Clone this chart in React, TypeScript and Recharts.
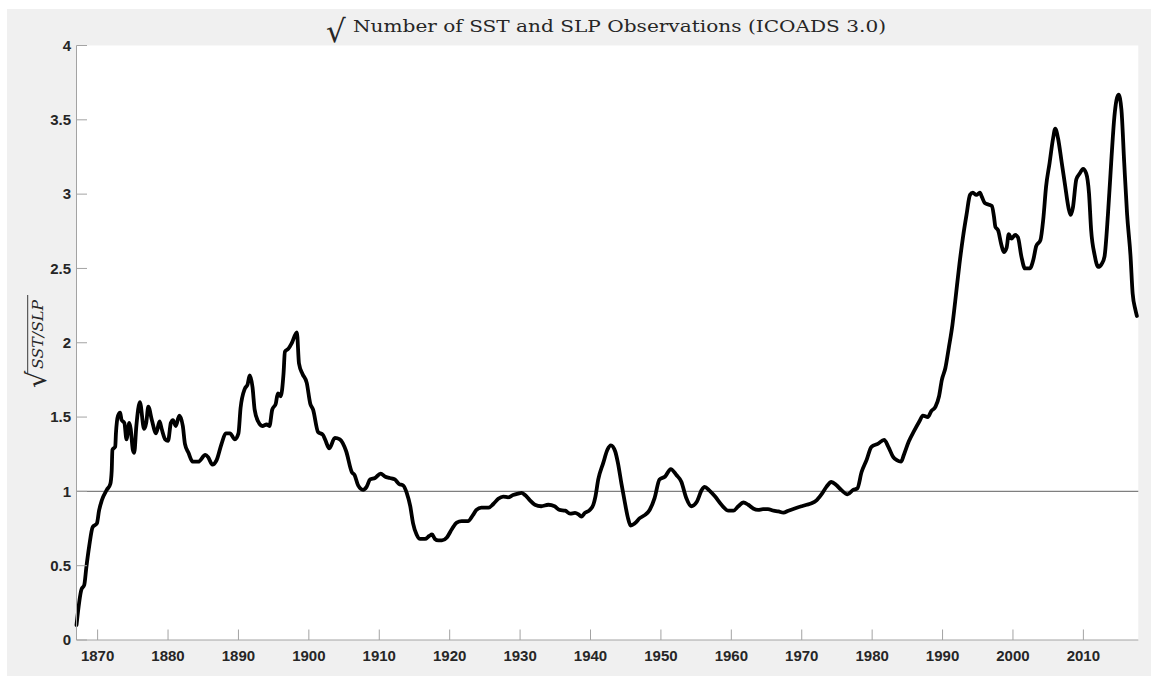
import React from 'react';
import { LineChart, Line, XAxis, YAxis, ReferenceLine, CartesianGrid, Customized } from 'recharts';

const years = [
  1867.0, 1867.7, 1868.1, 1868.4, 1868.8, 1869.3, 1869.9, 1870.2, 1870.6, 1871.3,
  1871.8, 1872.0, 1872.1, 1872.5, 1872.6, 1872.9, 1873.2, 1873.4, 1873.8, 1874.1,
  1874.5, 1874.7, 1875.0, 1875.2, 1875.5, 1876.0, 1876.6, 1876.9, 1877.2, 1877.7,
  1878.3, 1878.8, 1879.1, 1879.6, 1880.0, 1880.4, 1880.7, 1881.1, 1881.6, 1882.1,
  1882.4, 1882.9, 1883.5, 1884.3, 1885.3, 1885.7, 1886.3, 1886.9, 1887.6, 1888.2,
  1888.8, 1889.5, 1890.0, 1890.3, 1890.9, 1891.3, 1891.6, 1892.0, 1892.3, 1892.8,
  1893.4, 1894.0, 1894.4, 1894.8, 1895.3, 1895.6, 1896.0, 1896.4, 1896.6, 1897.1,
  1897.6, 1898.3, 1898.6, 1899.1, 1899.7, 1900.2, 1900.6, 1901.3, 1902.0, 1902.3,
  1902.9, 1903.7, 1904.4, 1905.3, 1906.1, 1906.5, 1907.0, 1907.7, 1908.2, 1908.7,
  1909.4, 1910.2, 1910.8, 1911.5, 1912.2, 1912.8, 1913.4, 1913.9, 1914.4, 1914.8,
  1915.3, 1915.8, 1916.5, 1917.1, 1917.5, 1917.9, 1918.4, 1918.9, 1919.6, 1920.3,
  1921.0, 1921.7, 1922.6, 1923.3, 1923.8, 1924.5, 1925.5, 1926.2, 1926.9, 1927.6,
  1928.3, 1929.0, 1929.7, 1930.2, 1930.7, 1931.4, 1932.1, 1933.0, 1934.0, 1934.9,
  1935.6, 1936.4, 1937.1, 1937.8, 1938.3, 1938.7, 1939.2, 1939.9, 1940.4, 1940.7,
  1941.1, 1941.8, 1942.4, 1942.9, 1943.5, 1943.9, 1944.4, 1944.9, 1945.3, 1945.7,
  1946.3, 1947.0, 1947.7, 1948.4, 1949.1, 1949.8, 1950.6, 1951.4, 1952.2, 1952.9,
  1953.6, 1954.3, 1955.1, 1955.8, 1956.2, 1956.9, 1957.7, 1958.6, 1959.6, 1960.3,
  1961.0, 1961.7, 1962.4, 1963.1, 1963.8, 1964.5, 1965.2, 1966.0, 1966.7, 1967.4,
  1968.1, 1969.0, 1970.0, 1970.7, 1971.4, 1972.1, 1972.8, 1973.5, 1974.2, 1974.9,
  1975.6, 1976.5, 1977.3, 1977.9, 1978.5, 1979.2, 1979.9, 1980.8, 1981.7, 1982.3,
  1983.0, 1983.5, 1984.1, 1984.5, 1985.2, 1986.0, 1986.7, 1987.2, 1987.9, 1988.4,
  1989.0, 1989.5, 1989.9, 1990.4, 1990.9, 1991.4, 1991.8, 1992.4, 1992.9, 1993.4,
  1993.9, 1994.3, 1994.8, 1995.3, 1995.6, 1996.0, 1996.5, 1997.0, 1997.3, 1997.5,
  1997.9, 1998.3, 1998.7, 1999.1, 1999.4, 1999.8, 2000.3, 2000.7, 2001.2, 2001.7,
  2002.4, 2002.9, 2003.3, 2003.9, 2004.3, 2004.7, 2005.2, 2005.7, 2006.0, 2006.4,
  2006.9, 2007.4, 2007.9, 2008.2, 2008.5, 2009.0, 2009.5, 2009.95, 2010.4, 2010.8,
  2011.1, 2011.6, 2012.1, 2012.6, 2013.0, 2013.5, 2014.0, 2014.4, 2015.0, 2015.4,
  2015.8, 2016.2, 2016.7, 2017.0, 2017.4, 2017.6,
];

const values = [
  0.10, 0.34, 0.37, 0.49, 0.63, 0.76, 0.785, 0.87, 0.94, 1.01,
  1.05, 1.14, 1.28, 1.30, 1.39, 1.51, 1.53, 1.48, 1.46, 1.35,
  1.46, 1.42, 1.28, 1.26, 1.44, 1.60, 1.42, 1.46, 1.57, 1.48,
  1.39, 1.47, 1.42, 1.35, 1.34, 1.46, 1.48, 1.44, 1.51, 1.44,
  1.32, 1.26, 1.20, 1.20, 1.245, 1.23, 1.18, 1.21, 1.32, 1.39,
  1.39, 1.35, 1.39, 1.56, 1.69, 1.72, 1.78, 1.70, 1.55, 1.47,
  1.44, 1.45, 1.44, 1.55, 1.59, 1.66, 1.64, 1.79, 1.94, 1.96,
  2.00, 2.07, 1.86, 1.79, 1.73, 1.59, 1.55, 1.40, 1.38, 1.35,
  1.29, 1.36, 1.35, 1.27, 1.13, 1.11, 1.04, 1.01, 1.03, 1.08,
  1.09, 1.12, 1.10, 1.09, 1.08, 1.05, 1.04, 0.99, 0.90, 0.785,
  0.71, 0.68, 0.68, 0.70, 0.71, 0.68, 0.67, 0.67, 0.69, 0.745,
  0.79, 0.80, 0.80, 0.84, 0.875, 0.89, 0.89, 0.915, 0.95, 0.965,
  0.96, 0.975, 0.985, 0.99, 0.975, 0.94, 0.91, 0.90, 0.91, 0.90,
  0.875, 0.87, 0.85, 0.855, 0.845, 0.83, 0.855, 0.875, 0.91, 0.965,
  1.08, 1.19, 1.28, 1.31, 1.27, 1.19, 1.05, 0.92, 0.825, 0.77,
  0.785, 0.82, 0.84, 0.875, 0.955, 1.08, 1.10, 1.15, 1.11, 1.065,
  0.955, 0.90, 0.93, 1.01, 1.03, 1.005, 0.965, 0.91, 0.87, 0.87,
  0.90, 0.925, 0.91, 0.885, 0.875, 0.88, 0.88, 0.87, 0.865, 0.857,
  0.87, 0.885, 0.90, 0.91, 0.92, 0.94, 0.98, 1.03, 1.063, 1.043,
  1.01, 0.98, 1.01, 1.02, 1.13, 1.21, 1.30, 1.32, 1.346, 1.30,
  1.23, 1.21, 1.20, 1.245, 1.335, 1.41, 1.47, 1.51, 1.50, 1.54,
  1.57, 1.64, 1.75, 1.83, 1.97, 2.12, 2.28, 2.53, 2.71, 2.86,
  2.995, 3.01, 2.995, 3.01, 2.98, 2.94, 2.93, 2.92, 2.85, 2.78,
  2.755, 2.67, 2.61, 2.64, 2.73, 2.70, 2.725, 2.71, 2.58, 2.50,
  2.50, 2.56, 2.65, 2.69, 2.83, 3.05, 3.21, 3.376, 3.44, 3.376,
  3.22, 3.06, 2.905, 2.86, 2.905, 3.10, 3.14, 3.17, 3.14, 3.005,
  2.76, 2.59, 2.51, 2.53, 2.58, 2.87, 3.25, 3.52, 3.67, 3.57,
  3.21, 2.87, 2.58, 2.33, 2.22, 2.18,
];

const xTicks = [1870, 1880, 1890, 1900, 1910, 1920, 1930, 1940, 1950, 1960, 1970, 1980, 1990, 2000, 2010];
const yTicks = [0, 0.5, 1, 1.5, 2, 2.5, 3, 3.5, 4];
const xDomain = [1867, 2017.8];
const yDomain = [0, 4];
const referenceValue = 1;
const titleText = 'Number of SST and SLP Observations (ICOADS 3.0)';
const radical = '\u221A';
const yLabelText = 'SST/SLP';

const data = years.map((year, i) => ({ year, v: values[i] }));

const AXIS = '#a3a3a3';
const TEXT = '#262626';
const TICK_FONT = '"Liberation Sans", Arial, Helvetica, sans-serif';
const SERIF = '"DejaVu Serif", "Liberation Serif", serif';

const XTick = (props: any) => {
  const { x, y, payload } = props;
  return (
    <g>
      <line x1={x} y1={y} x2={x} y2={y - 10.5} stroke={AXIS} strokeWidth={1} />
      <text x={x} y={y + 20.5} textAnchor="middle" fontFamily={TICK_FONT} fontWeight="bold" fontSize={15} fill={TEXT}>
        {payload.value}
      </text>
    </g>
  );
};

const YTick = (props: any) => {
  const { x, y, payload } = props;
  return (
    <g>
      <line x1={x} y1={y} x2={x + 10.5} y2={y} stroke={AXIS} strokeWidth={1} />
      <text x={x - 5.5} y={y + 5.3} textAnchor="end" fontFamily={TICK_FONT} fontWeight="bold" fontSize={15} fill={TEXT}>
        {String(payload.value)}
      </text>
    </g>
  );
};

const Decorations = () => (
  <g>
    <text x={319} y={33} fontFamily='"DejaVu Sans", sans-serif' fontSize={31} fill={TEXT}>{radical}</text>
    <text x={346} y={22.7} fontFamily={SERIF} fontSize={17.5} fill={TEXT} textLength={533} lengthAdjust="spacingAndGlyphs">
      {titleText}
    </text>
    <g transform="translate(29,332) rotate(-90)">
      <text x={-47} y={10} fontFamily='"DejaVu Sans", sans-serif' fontSize={27} fill={TEXT}>{radical}</text>
      <line x1={-32} y1={-8.3} x2={46} y2={-8.3} stroke={TEXT} strokeWidth={0.9} />
      <text x={-28} y={7} fontFamily={SERIF} fontStyle="italic" fontSize={14} fill={TEXT} textLength={69} lengthAdjust="spacingAndGlyphs">
        {yLabelText}
      </text>
    </g>
  </g>
);

export default function App() {
  return (
    <div style={{ position: 'absolute', left: 0, top: 0, width: 1151, height: 676, background: '#ffffff', overflow: 'hidden' }}>
      <div style={{ position: 'absolute', left: 7, top: 9, width: 1144, height: 667, background: '#f0f0f0' }}>
        <LineChart width={1144} height={667} data={data} margin={{ top: 36.5, right: 12.7, left: 9.5, bottom: 6 }}>
          <CartesianGrid fill="#ffffff" horizontal={false} vertical={false} stroke="none" />
          <XAxis
            type="number"
            dataKey="year"
            domain={xDomain}
            ticks={xTicks}
            interval={0}
            height={30}
            tickSize={0}
            tickMargin={0}
            tickLine={false}
            axisLine={{ stroke: AXIS, strokeWidth: 1 }}
            tick={<XTick />}
          />
          <YAxis
            type="number"
            domain={yDomain}
            ticks={yTicks}
            interval={0}
            width={60}
            tickSize={0}
            tickMargin={0}
            tickLine={false}
            axisLine={{ stroke: AXIS, strokeWidth: 1 }}
            tick={<YTick />}
          />
          <ReferenceLine y={referenceValue} stroke="#7f7f7f" strokeWidth={1.4} />
          <Line
            dataKey="v"
            type="monotone"
            stroke="#000000"
            strokeWidth={3.8}
            strokeLinejoin="round"
            strokeLinecap="round"
            dot={false}
            activeDot={false}
            isAnimationActive={false}
          />
          <Customized component={Decorations} />
        </LineChart>
      </div>
    </div>
  );
}
